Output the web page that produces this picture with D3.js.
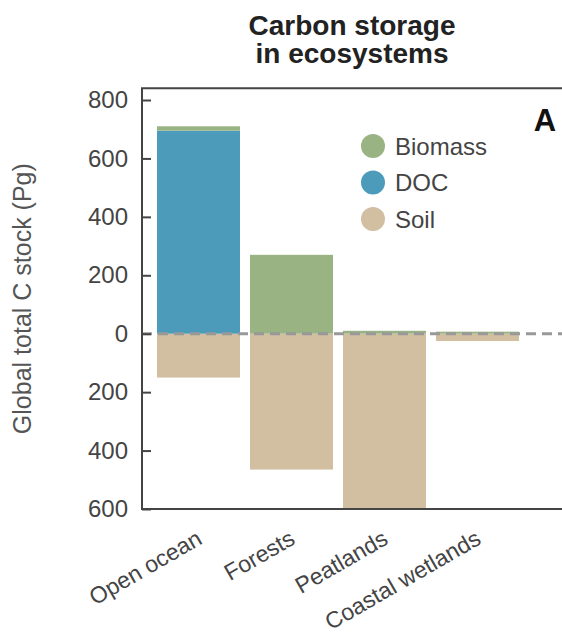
<!DOCTYPE html>
<html>
<head>
<meta charset="utf-8">
<script src="https://cdn.jsdelivr.net/npm/d3@7"></script>
<style>
  body { margin: 0; background: #fff; }
  svg text { font-family: "Liberation Sans", Arial, sans-serif; }
</style>
</head>
<body>
<div id="container"></div>
<script>
// values in Pg C
const categories = ["Open ocean", "Forests", "Peatlands", "Coastal wetlands"];
const biomass = [15, 270, 10, 7];
const doc = [695, 0, 0, 0];
const soil = [150, 465, 600, 25];
const yTicks = [-600, -400, -200, 0, 200, 400, 600, 800];
const legendItems = ["Biomass", "DOC", "Soil"];

const colors = { Biomass: "#99b482", DOC: "#4c9bbb", Soil: "#d2bea1" };

const width = 562, height = 636;
const svg = d3.select("#container").append("svg")
  .attr("width", width)
  .attr("height", height);

const left = 142, bottom = 509;

const x = d3.scaleBand().domain(categories)
  .range([152, 524]).paddingInner(0.1075).paddingOuter(0.054);
const y = d3.scaleLinear().domain([-600, 800]).range([bottom, 100]);
const yTop = y(840);

// title
svg.append("text")
  .attr("x", 352).attr("y", 35)
  .attr("text-anchor", "middle")
  .attr("font-size", 28).attr("font-weight", "bold").attr("fill", "#222")
  .text("Carbon storage");
svg.append("text")
  .attr("x", 352).attr("y", 63)
  .attr("text-anchor", "middle")
  .attr("font-size", 28).attr("font-weight", "bold").attr("fill", "#222")
  .text("in ecosystems");

// bars: soil goes below zero, DOC + biomass stacked above
const g = svg.append("g");
categories.forEach((c, i) => {
  g.append("rect")
    .attr("x", x(c)).attr("width", x.bandwidth())
    .attr("y", y(0)).attr("height", y(-soil[i]) - y(0))
    .attr("fill", colors.Soil);
  if (doc[i] > 0) {
    g.append("rect")
      .attr("x", x(c)).attr("width", x.bandwidth())
      .attr("y", y(doc[i])).attr("height", y(0) - y(doc[i]))
      .attr("fill", colors.DOC);
  }
  g.append("rect")
    .attr("x", x(c)).attr("width", x.bandwidth())
    .attr("y", y(doc[i] + biomass[i])).attr("height", y(doc[i]) - y(doc[i] + biomass[i]))
    .attr("fill", colors.Biomass);
});

// zero line
svg.append("line")
  .attr("x1", left).attr("x2", width)
  .attr("y1", y(0)).attr("y2", y(0))
  .attr("stroke", "#999").attr("stroke-width", 3)
  .attr("stroke-dasharray", "10,6");

// y axis
const yAxis = svg.append("g")
  .attr("transform", `translate(${left},0)`)
  .call(d3.axisLeft(y).tickValues(yTicks).tickSizeInner(-9).tickSizeOuter(0)
    .tickPadding(14).tickFormat(d => Math.abs(d)));
yAxis.select(".domain").remove();
yAxis.selectAll(".tick line").attr("stroke", "#444").attr("stroke-width", 2);
yAxis.selectAll(".tick text")
  .attr("font-size", 24).attr("fill", "#444")
  .attr("font-family", "'Liberation Sans', Arial, sans-serif");

// frame
svg.append("path")
  .attr("d", `M${width},${yTop}H${left}V${bottom}H${width}`)
  .attr("fill", "none").attr("stroke", "#444").attr("stroke-width", 2);

// y label
svg.append("text")
  .attr("transform", `translate(31,${(yTop + bottom) / 2}) rotate(-90)`)
  .attr("text-anchor", "middle")
  .attr("font-size", 25).attr("fill", "#555")
  .text("Global total C stock (Pg)");

// x labels
svg.append("g").selectAll("text")
  .data(categories)
  .join("text")
  .attr("transform", d => `translate(${x(d) + x.bandwidth() / 2 + 5},543) rotate(-30)`)
  .attr("text-anchor", "end")
  .attr("font-size", 23).attr("fill", "#444")
  .text(d => d);

// legend
const legend = svg.append("g").selectAll("g")
  .data(legendItems)
  .join("g")
  .attr("transform", (d, i) => `translate(373,${146 + i * 36.5})`);
legend.append("circle").attr("r", 12).attr("fill", d => colors[d]);
legend.append("text")
  .attr("x", 22).attr("dy", "0.36em")
  .attr("font-size", 24).attr("fill", "#444")
  .text(d => d);

// panel letter
svg.append("text")
  .attr("x", 545).attr("y", 131)
  .attr("text-anchor", "middle")
  .attr("font-size", 31).attr("font-weight", "bold").attr("fill", "#111")
  .text("A");
</script>
</body>
</html>
